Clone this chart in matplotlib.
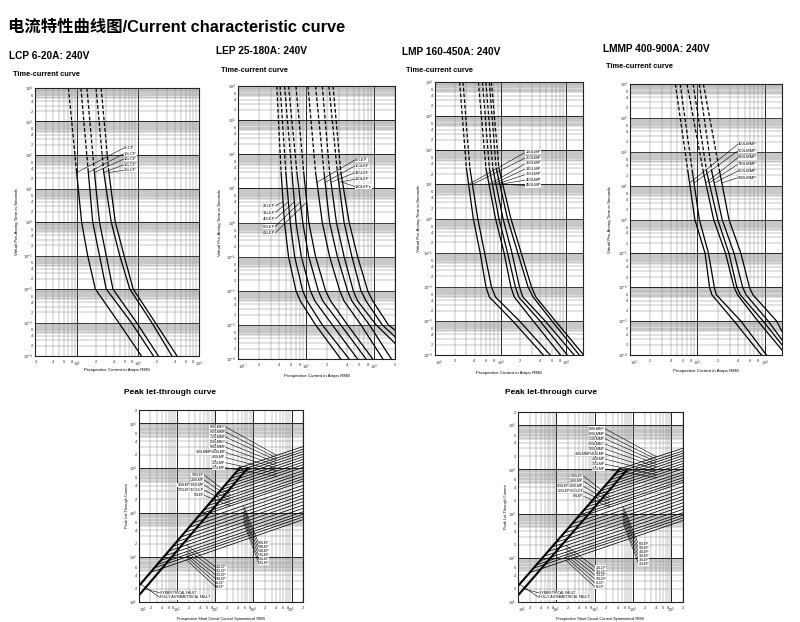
import numpy as np
import matplotlib
matplotlib.use("Agg")
import matplotlib.pyplot as plt
from matplotlib.ticker import LogLocator, FuncFormatter, LogFormatterMathtext

plt.rcParams['font.family'] = ['Liberation Sans', 'Noto Sans CJK SC', 'DejaVu Sans']
plt.rcParams['mathtext.fontset'] = 'custom'
plt.rcParams['mathtext.rm'] = 'Liberation Sans'
plt.rcParams['mathtext.it'] = 'Liberation Sans'

# ---------------- data ----------------
main_title = "电流特性曲线图/Current characteristic curve"

# LCP 6-20A (time-current)
lcp_names = ['6LCP', '10LCP', '12LCP', '16LCP', '20LCP']
lcp_times = [1e4, 30, 1, 0.1, 0.01, 1e-3]
lcp_currents = [
    [7.1, 9.7, 11.7, 14.7, 19.7, 47.6],
    [11.4, 15.1, 17.8, 23, 29.7, 77],
    [14.3, 19, 23, 29.7, 38.3, 93.8],
    [20.2, 27.1, 35.9, 49.5, 72.6, 167],
    [24.5, 32.9, 41.9, 58.4, 82.5, 190],
]
lcp_end_current = [113, 178, 215, 359, 435]
lcp_end_time = [1e-4, 1e-4, 1e-4, 1e-4, 1e-4]
lcp_label_x = 58
lcp_label_y = [162, 110, 76, 51, 35]

# LEP 25-180A
lep_names = ['25LEP', '32LEP', '40LEP', '50LEP', '63LEP',
             '80LEP', '100LEP', '125LEP', '160LEP', '180LEPs']
lep_times = [1e4, 30, 1, 0.1, 0.01, 0.005, 1e-3]
lep_currents = [
    [37, 42.8, 48, 55, 70.7, 82, 137],
    [41.4, 50.2, 58.2, 67.6, 88.8, 103, 172],
    [48, 61.7, 70.7, 84.8, 115, 134, 241],
    [55, 73, 88.8, 109, 150, 175, 321],
    [70.7, 91.8, 109, 137, 192, 228, 403],
    [106, 137, 172, 220, 310, 359, 634],
    [137, 182, 220, 286, 403, 467, 843],
    [172, 220, 277, 359, 489, 566, 1060],
    [215, 286, 359, 467, 634, 753, 1300],
    [247, 321, 426, 566, 796, 944, 1600],
]
lep_end_current = [321, 426, 566, 753, 944, 1330, 1770, 2000, 2000, 2000]
lep_end_time = [1e-4, 1e-4, 1e-4, 1e-4, 1e-4, 1e-4, 1e-4, 2.9e-4, 4.5e-4, 7e-4]
lep_left_label_x = 35
lep_left_label_y = [3.08, 1.96, 1.25, 0.76, 0.49]
lep_right_label_x = 518
lep_right_label_y = [68, 45.7, 29, 18.5, 11.3]

# LMP 160-450A
lmp_names = ['160LMP', '200LMP', '250LMP', '315LMP', '355LMP', '400LMP', '450LMP']
lmp_times = [1e4, 30, 1, 0.1, 0.01, 0.005, 1e-3]
lmp_currents = [
    [237, 301, 383, 487, 597, 673, 1521],
    [267, 340, 448, 569, 723, 835, 1933],
    [458, 597, 835, 1127, 1432, 1615, 3126],
    [529, 673, 942, 1271, 1674, 1888, 3971],
    [597, 759, 1087, 1485, 1933, 2181, 4753],
    [673, 855, 1271, 1821, 2612, 3126, 6040],
    [723, 942, 1432, 2053, 2944, 3438, 6810],
]
lmp_end_current = [4477, 5690, 8150, 10370, 13180, 15780, 18400]
lmp_end_time = [1e-4] * 7
lmp_label_x = 2400
lmp_label_y = [87.5, 59.8, 40.9, 28.6, 19.5, 13.4, 9.35]

# LMMP 400-900A
lmmp_names = ['400LMMP', '500LMMP', '630LMMP', '710LMMP', '800LMMP', '900LMMP']
lmmp_times = [1e4, 25, 1, 0.1, 0.01, 0.006, 1e-3]
lmmp_currents = [
    [471, 726, 916, 1300, 1514, 1641, 3499],
    [555, 845, 1067, 1462, 1782, 1910, 4425],
    [701, 1227, 1742, 2618, 3499, 3936, 7925],
    [865, 1377, 2000, 2938, 3846, 4318, 9440],
    [1067, 1641, 2328, 3499, 4688, 5272, 11250],
    [1227, 2147, 2938, 4425, 5916, 6653, 15030],
]
lmmp_end_current = [8890, 10590, 18000, 18000, 18000, 18000]
lmmp_end_time = [1e-4, 1e-4, 1.4e-4, 2.0e-4, 2.8e-4, 4.9e-4]
lmmp_label_x = 4030
lmmp_label_y = [169, 107, 68, 43, 27.3, 17.3]

# Peak let-through
pk_sym_current = [10, 7000]
pk_sym_peak = [14.1, 9900]
pk_asym_current = [10, 4460]
pk_asym_peak = [23, 10260]
pk_start_current = [4460, 3660, 3090, 2540, 2090, 1730, 1420, 1170, 962,
                    754, 620, 498, 409, 346,
                    258, 202, 158, 124, 97, 76,
                    60, 47, 37, 30, 25, 20]
pk_start_peak = [10260, 8420, 7100, 5840, 4810, 3980, 3270, 2690, 2210,
                 1730, 1430, 1150, 940, 800,
                 590, 465, 363, 285, 223, 175,
                 138, 108, 85, 69, 58, 46]
pk_end_current = 2e5
pk_end_peak = [30300, 26400, 23400, 20500, 17900, 15600, 13600, 11900, 10400,
               8730, 7610, 6530, 5700, 5060,
               4120, 3480, 2930, 2470, 2080, 1760,
               1480, 1250, 1050, 918, 802, 699]
pk_g1_names = ['900LMMP', '800LMMP', '710LMMP', '630LMMP', '500LMMP',
               '400LMMP/450LMP', '400LMP', '355LMP', '315LMP']
pk_g1_x = 1830
pk_g1_y = [84300, 64700, 49700, 38100, 29300, 22500, 17300, 13200, 10200]
pk_g2_names = ['180LEP', '200LMP', '160LEP/160LMP', '125LEP/100LEP', '80LEP']
pk_g2_x = 504
pk_g2_y = [7110, 5460, 4190, 3220, 2470]
pk_g3_names = ['63LEP', '50LEP', '40LEP', '35LEP', '32LEP', '25LEP']
pk_g3_x = 13800
pk_g3_y = [205, 167, 136, 111, 90, 74]
pk_g4_names = ['20LCP', '16LCP', '12LCP', '10LCP', '8LCP', '6LCP']
pk_g4_x = 1040
pk_g4_y = [60, 48.9, 39.8, 32.5, 26.4, 21.5]
pk_fault_names = ['SYMMETRICAL FAULT', 'FULLY ASYMMETRICAL FAULT']
pk_fault_x = 35
pk_fault_y = [16.1, 12.7]

# ---------------- helpers ----------------
W, H = 800, 622
fig = plt.figure(figsize=(W / 100, H / 100), dpi=100)
fig.patch.set_facecolor('white')
all_axes = []


def px_axes(x0, y0, x1, y1):
    a = fig.add_axes([x0 / W, 1 - y1 / H, (x1 - x0) / W, (y1 - y0) / H])
    all_axes.append(a)
    return a


def minor_label(v, labs):
    e = np.floor(np.log10(v) + 1e-9)
    m = int(round(v / 10 ** e))
    return str(m) if m in labs else ''


def style_axes(ax, xlim, ylim, xlabs=(2, 4, 6, 8), ylabs=(2, 4, 6)):
    ax.set_xscale('log')
    ax.set_yscale('log')
    ax.set_xlim(*xlim)
    ax.set_ylim(*ylim)
    for axis, labs in ((ax.xaxis, xlabs), (ax.yaxis, ylabs)):
        axis.set_major_locator(LogLocator(base=10, numticks=30))
        axis.set_minor_locator(LogLocator(base=10, subs=np.arange(2, 10), numticks=30))
        axis.set_major_formatter(LogFormatterMathtext())
        axis.set_minor_formatter(FuncFormatter(lambda v, p, labs=labs: minor_label(v, labs)))
    ax.grid(True, which='major', color='#222222', lw=0.7)
    ax.grid(True, which='minor', color='#8a8a8a', lw=0.35)
    ax.set_axisbelow(True)
    ax.tick_params(which='both', length=0, labelsize=3, colors='#333333')
    ax.tick_params(axis='x', which='both', pad=3.0)
    ax.tick_params(axis='y', which='both', pad=1.6)
    lo = int(np.floor(np.log10(ylim[0])))
    hi = int(np.ceil(np.log10(ylim[1])))
    for k in range(lo, hi + 1):
        ax.axhspan(0.5 * 10.0 ** k, 10.0 ** k, color='#dcdcdc', lw=0, zorder=0)
    for s in ax.spines.values():
        s.set_linewidth(0.8)
        s.set_color('#222222')


def curve_current_at(times, cur, t):
    lt = np.log10(np.asarray(times, float))[::-1]
    lc = np.log10(np.asarray(cur, float))[::-1]
    return 10 ** np.interp(np.log10(t), lt, lc)


def draw_tc(ax, times, currents, end_cur, end_time):
    for i, cur in enumerate(currents):
        xs = list(cur) + [end_cur[i]]
        ts = list(times) + [end_time[i]]
        ax.plot(xs[:2], ts[:2], color='k', lw=0.9, ls=(0, (3.0, 1.6)))
        ax.plot(xs[1:], ts[1:], color='k', lw=0.9, solid_joinstyle='round')


def labels(ax, names, lx, ly, tx, ty, ha, fs=3.0):
    for n, y, a, b in zip(names, ly, tx, ty):
        ax.annotate(n, xy=(a, b), xytext=(lx, y), fontsize=fs, ha=ha, va='center',
                    bbox=dict(boxstyle='square,pad=0.05', fc='white', ec='none'),
                    arrowprops=dict(arrowstyle='-', lw=0.4, color='k', shrinkA=0, shrinkB=0,
                                    relpos=(0 if ha == 'left' else 1, 0.5)),
                    annotation_clip=False, zorder=6)


def tc_labels(ax, xlbl_y, ylbl_x):
    ax.set_xlabel('Prospective Current in Amps RMS', fontsize=3.2)
    ax.set_ylabel('Virtual Pre-Arcing Time in Seconds', fontsize=3.2)
    ax.xaxis.set_label_coords(0.5, xlbl_y)
    ax.yaxis.set_label_coords(ylbl_x, 0.5)


# ---------------- titles ----------------
fig.text(8 / W, 1 - 27 / H, main_title, fontsize=11.8, fontweight='bold', va='center', ha='left')
sub = [("LCP 6-20A: 240V", 9, 56, 13, 74),
       ("LEP 25-180A: 240V", 216, 51, 221, 70),
       ("LMP 160-450A: 240V", 402, 52, 406, 70),
       ("LMMP 400-900A: 240V", 603, 49, 606, 67)]
for t, x, y, x2, y2 in sub:
    fig.text(x / W, 1 - y / H, t, fontsize=7.3, fontweight='bold', va='center', ha='left')
    fig.text(x2 / W, 1 - y2 / H, "Time-current curve", fontsize=5.3, fontweight='bold',
             va='center', ha='left')

# ---------------- LCP ----------------
ax = px_axes(35, 88, 199, 356)
style_axes(ax, (2, 1000), (1e-4, 1e4))
draw_tc(ax, lcp_times, lcp_currents, lcp_end_current, lcp_end_time)
labels(ax, lcp_names, lcp_label_x, lcp_label_y,
       [c[1] for c in lcp_currents], [lcp_times[1]] * 5, 'left')
tc_labels(ax, -0.045, -0.095)

# ---------------- LEP ----------------
ax = px_axes(238, 86, 395, 359)
style_axes(ax, (10, 2000), (1e-4, 1e4))
draw_tc(ax, lep_times, lep_currents, lep_end_current, lep_end_time)
labels(ax, lep_names[:5], lep_left_label_x, lep_left_label_y,
       [curve_current_at(lep_times, c, 4) for c in lep_currents[:5]], [4] * 5, 'right')
labels(ax, lep_names[5:], lep_right_label_x, lep_right_label_y,
       [curve_current_at(lep_times, c, 15) for c in lep_currents[5:]], [15] * 5, 'left')
tc_labels(ax, -0.055, -0.105)

# ---------------- LMP ----------------
ax = px_axes(435, 82, 583, 355)
style_axes(ax, (100, 18000), (1e-4, 1e4))
draw_tc(ax, lmp_times, lmp_currents, lmp_end_current, lmp_end_time)
labels(ax, lmp_names, lmp_label_x, lmp_label_y,
       [curve_current_at(lmp_times, c, 10) for c in lmp_currents], [10] * 7, 'left')
tc_labels(ax, -0.058, -0.095)

# ---------------- LMMP ----------------
ax = px_axes(630, 84, 782, 355)
style_axes(ax, (100, 18000), (1e-4, 1e4))
draw_tc(ax, lmmp_times, lmmp_currents, lmmp_end_current, lmmp_end_time)
labels(ax, lmmp_names, lmmp_label_x, lmmp_label_y,
       [curve_current_at(lmmp_times, c, 12) for c in lmmp_currents], [12] * 6, 'left')
tc_labels(ax, -0.052, -0.118)


# ---------------- Peak let-through ----------------
def line_peak_at(i, c):
    x0, x1 = np.log10(pk_start_current[i]), np.log10(pk_end_current)
    y0, y1 = np.log10(pk_start_peak[i]), np.log10(pk_end_peak[i])
    return 10 ** (y0 + (np.log10(c) - x0) * (y1 - y0) / (x1 - x0))


def draw_peak(ax):
    style_axes(ax, (10, 2e5), (10, 2e5))
    for i in range(len(pk_start_current)):
        ax.plot([pk_start_current[i], pk_end_current], [pk_start_peak[i], pk_end_peak[i]],
                color='k', lw=0.55)
    ax.plot(pk_sym_current, pk_sym_peak, color='k', lw=1.5)
    ax.plot(pk_asym_current, pk_asym_peak, color='k', lw=1.5)
    groups = [(pk_g1_names, pk_g1_x, pk_g1_y, range(0, 9), 41000, 'right'),
              (pk_g2_names, pk_g2_x, pk_g2_y, range(9, 14), 2500, 'right'),
              (pk_g3_names, pk_g3_x, pk_g3_y, range(14, 20), 5500, 'left'),
              (pk_g4_names, pk_g4_x, pk_g4_y, range(20, 26), 177, 'left')]
    for names, lx, ly, idx, tc, ha in groups:
        labels(ax, names, lx, ly, [tc] * len(names), [line_peak_at(i, tc) for i in idx], ha, fs=2.5)
    fx = [14, 11]
    fy = [pk_sym_peak[0] * 1.4, pk_asym_peak[0] * 1.1]
    labels(ax, pk_fault_names, pk_fault_x, pk_fault_y, fx, fy, 'left', fs=2.5)
    ax.set_xlabel('Prospective Short Circuit Current Symmetrical RMS', fontsize=2.8)
    ax.set_ylabel('Peak Let-Through Current', fontsize=2.8)
    ax.xaxis.set_label_coords(0.5, -0.078)
    ax.yaxis.set_label_coords(-0.06, 0.5)


fig.text(124 / W, 1 - 393 / H, "Peak let-through curve", fontsize=6, fontweight='bold', va='center')
fig.text(505 / W, 1 - 393 / H, "Peak let-through curve", fontsize=6, fontweight='bold', va='center')
draw_peak(px_axes(139, 410, 303, 602))
draw_peak(px_axes(518, 412, 683, 602))

# keep the corner labels apart: the first x label starts at the corner
fig.canvas.draw()
for a in all_axes:
    x0 = a.get_xlim()[0]
    for t in a.xaxis.get_majorticklabels() + a.xaxis.get_minorticklabels():
        pos = t.get_position()[0]
        if pos > 0 and abs(np.log10(pos) - np.log10(x0)) < 1e-6:
            t.set_ha('left')

fig.savefig('out.png', dpi=100, facecolor='white')
